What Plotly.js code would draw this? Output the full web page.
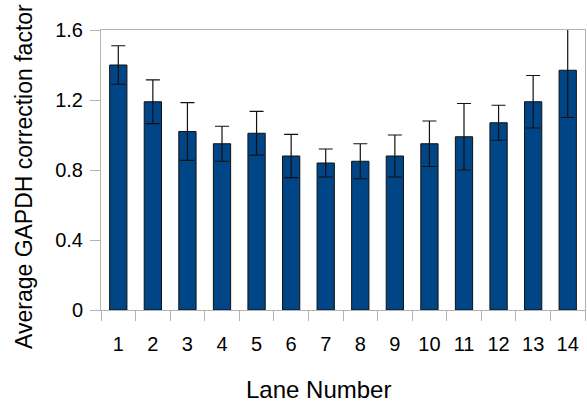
<!DOCTYPE html>
<html>
<head>
<meta charset="utf-8">
<script src="https://cdn.plot.ly/plotly-3.0.1.min.js"></script>
<style>
  html, body { margin: 0; padding: 0; background: #fff; }
  #chart { width: 587px; height: 405px; }
</style>
</head>
<body>
<div id="chart"></div>
<script>
// Lane labels along the x axis
const lanes = ['1', '2', '3', '4', '5', '6', '7', '8', '9', '10', '11', '12', '13', '14'];
// Average GAPDH correction factor per lane
const meanFactor = [1.40, 1.19, 1.02, 0.95, 1.01, 0.88, 0.84, 0.85, 0.88, 0.95, 0.99, 1.07, 1.19, 1.37];
// Error bar half-lengths (symmetric)
const errFactor = [0.11, 0.125, 0.165, 0.10, 0.125, 0.123, 0.08, 0.10, 0.12, 0.13, 0.19, 0.10, 0.15, 0.27];
// Y axis tick values
const yTicks = [0, 0.4, 0.8, 1.2, 1.6];
const yTickText = ['0', '0.4', '0.8', '1.2', '1.6'];

const FONT = '"Liberation Sans", Arial, sans-serif';
const AXIS_GRAY = '#b3b3b3';

const trace = {
  type: 'bar',
  x: lanes,
  y: meanFactor,
  marker: { color: '#004586', line: { color: '#111111', width: 1 } },
  error_y: {
    type: 'data',
    array: errFactor,
    visible: true,
    color: '#111111',
    thickness: 1.2,
    width: 7
  },
  hoverinfo: 'x+y'
};

const layout = {
  width: 587,
  height: 405,
  margin: { l: 101, r: 2, t: 30, b: 95 },
  paper_bgcolor: '#ffffff',
  plot_bgcolor: '#ffffff',
  showlegend: false,
  bargap: 0.5,
  font: { family: FONT, color: '#000000' },
  xaxis: {
    type: 'category',
    tickson: 'boundaries',
    ticks: 'outside',
    ticklen: 10,
    tickcolor: AXIS_GRAY,
    tickwidth: 1,
    showline: true,
    linecolor: AXIS_GRAY,
    linewidth: 1,
    mirror: true,
    showgrid: false,
    zeroline: false,
    tickfont: { family: FONT, size: 20, color: '#000000' },
    ticklabelstandoff: 16
  },
  yaxis: {
    range: [0, 1.6],
    tickvals: yTicks,
    ticktext: yTickText,
    ticks: 'outside',
    ticklen: 10,
    tickcolor: AXIS_GRAY,
    tickwidth: 1,
    showline: true,
    linecolor: AXIS_GRAY,
    linewidth: 1,
    mirror: true,
    showgrid: false,
    zeroline: false,
    tickfont: { family: FONT, size: 20, color: '#000000' },
    ticklabelstandoff: 3
  },
  annotations: [
    {
      text: 'Lane Number',
      xref: 'paper', yref: 'paper',
      x: (318 - 101) / 484, y: (310 - 390) / 280,
      xanchor: 'center', yanchor: 'middle',
      showarrow: false,
      font: { family: FONT, size: 24, color: '#000000' }
    },
    {
      text: 'Average GAPDH correction factor',
      xref: 'paper', yref: 'paper',
      x: (24 - 101) / 484, y: (310 - 177) / 280,
      xanchor: 'center', yanchor: 'middle',
      textangle: -90,
      showarrow: false,
      font: { family: FONT, size: 23, color: '#000000' }
    }
  ]
};

Plotly.newPlot('chart', [trace], layout, { displayModeBar: false, staticPlot: true });
</script>
</body>
</html>
